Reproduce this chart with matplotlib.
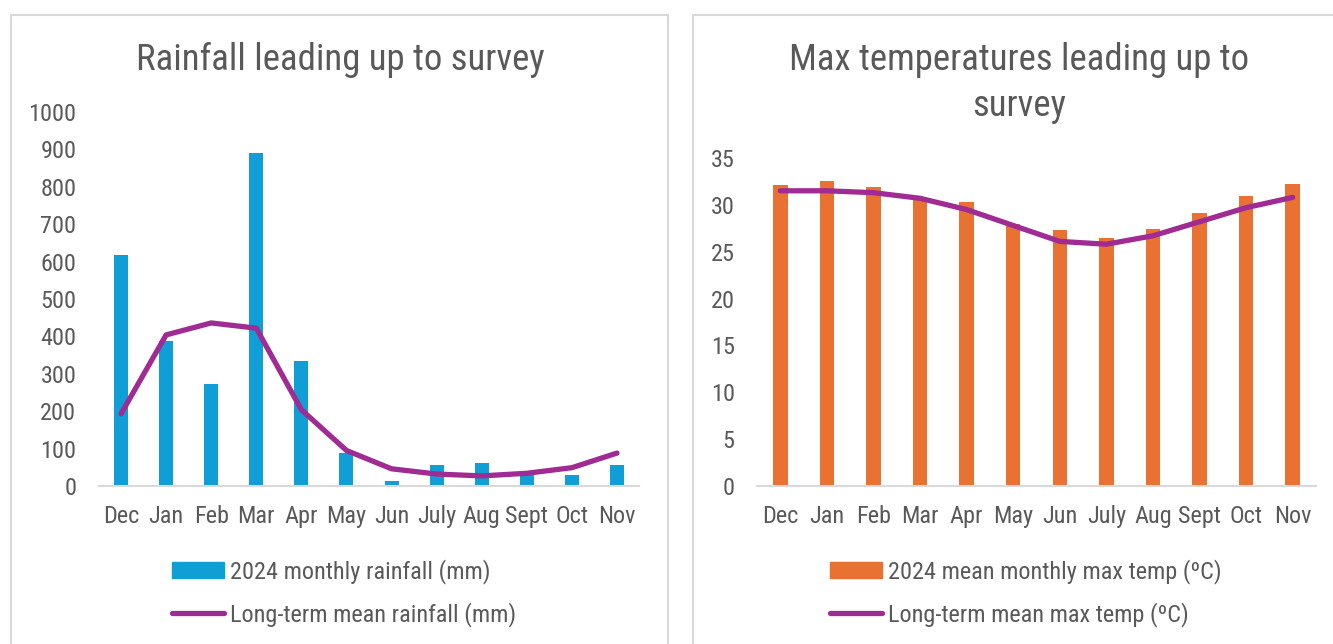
# %% Librerias
import matplotlib.pyplot as plt
from matplotlib.patches import Rectangle, Patch
from matplotlib.lines import Line2D
from matplotlib import font_manager

names = {f.name for f in font_manager.fontManager.ttflist}
narrow = [n for n in ['Roboto Condensed', 'Liberation Sans Narrow', 'Roboto', 'DejaVu Sans']
          if n in names]
plt.rcParams['font.family'] = narrow

# %% Datos
months = ['Dec', 'Jan', 'Feb', 'Mar', 'Apr', 'May', 'Jun', 'July', 'Aug', 'Sept', 'Oct', 'Nov']
rain_2024 = [617, 389, 273, 891, 335, 89, 13, 57, 62, 30, 30, 57]
rain_mean = [193, 404, 436, 422, 204, 95, 46, 32, 27, 34, 49, 88]
temp_2024 = [32.1, 32.5, 31.9, 30.6, 30.3, 28.0, 27.3, 26.5, 27.4, 29.1, 30.9, 32.2]
temp_mean = [31.5, 31.5, 31.3, 30.7, 29.5, 27.8, 26.1, 25.8, 26.7, 28.2, 29.7, 30.8]

BLUE = '#0F9ED5'
ORANGE = '#E97132'
PURPLE = '#A02B93'
TEXT = '#595959'
GRID = '#D9D9D9'

W, H = 1333, 644
fig = plt.figure(figsize=(W / 100, H / 100), dpi=100)


def px_axes(x0, x1, y_top, y_bot):
    return fig.add_axes([x0 / W, 1 - y_bot / H, (x1 - x0) / W, (y_bot - y_top) / H])


# %% Marcos de los paneles
for x0, x1 in [(11, 668), (693, 1345)]:
    fig.add_artist(Rectangle((x0 / W, -0.05), (x1 - x0) / W, 1.05 - 15 / H,
                             transform=fig.transFigure, fill=False,
                             edgecolor=GRID, linewidth=1.5))


def style(ax, ymax, step):
    ax.set_xlim(-0.5, len(months) - 0.5)
    ax.set_ylim(0, ymax)
    ax.set_yticks(range(0, ymax + 1, step))
    ax.set_xticks(range(len(months)))
    ax.set_xticklabels(months)
    for s in ['top', 'right', 'left']:
        ax.spines[s].set_visible(False)
    ax.spines['bottom'].set_color(GRID)
    ax.spines['bottom'].set_linewidth(1.5)
    ax.tick_params(length=0, labelsize=17.5, labelcolor=TEXT)
    ax.tick_params(axis='x', pad=14)
    ax.tick_params(axis='y', pad=16)
    ax.set_facecolor('none')


leg_kw = dict(loc='upper left', frameon=False, fontsize=17.5, labelcolor=TEXT,
              handlelength=2.15, handleheight=0.65, handletextpad=0.25,
              labelspacing=0.76, borderaxespad=0, borderpad=0)

# %% Grafico de lluvia
ax1 = px_axes(98.5, 639.5, 112, 486)
ax1.bar(range(len(months)), rain_2024, width=0.31, color=BLUE, zorder=2)
ax1.plot(range(len(months)), rain_mean, color=PURPLE, linewidth=3.8,
         solid_capstyle='round', solid_joinstyle='round', zorder=3)
style(ax1, 1000, 100)
fig.text(340 / W, 1 - 60 / H, 'Rainfall leading up to survey', ha='center', va='center',
         fontsize=26.5, color=TEXT)
h1 = [Patch(color=BLUE), Line2D([], [], color=PURPLE, linewidth=3.8, solid_capstyle='round')]
fig.legend(h1, ['2024 monthly rainfall (mm)', 'Long-term mean rainfall (mm)'],
           bbox_to_anchor=(172 / W, 1 - 559 / H), **leg_kw)

# %% Grafico de temperatura
ax2 = px_axes(757, 1316, 158, 486)
ax2.bar(range(len(months)), temp_2024, width=0.31, color=ORANGE, zorder=2)
ax2.plot(range(len(months)), temp_mean, color=PURPLE, linewidth=3.8,
         solid_capstyle='round', solid_joinstyle='round', zorder=3)
style(ax2, 35, 5)
fig.text(1019 / W, 1 - 83 / H, 'Max temperatures leading up to\nsurvey', ha='center',
         va='center', fontsize=26.5, color=TEXT, linespacing=1.38)
h2 = [Patch(color=ORANGE), Line2D([], [], color=PURPLE, linewidth=3.8, solid_capstyle='round')]
fig.legend(h2, ['2024 mean monthly max temp (ºC)', 'Long-term mean max temp (ºC)'],
           bbox_to_anchor=(830 / W, 1 - 559 / H), **leg_kw)

plt.savefig('out.png', dpi=100)
